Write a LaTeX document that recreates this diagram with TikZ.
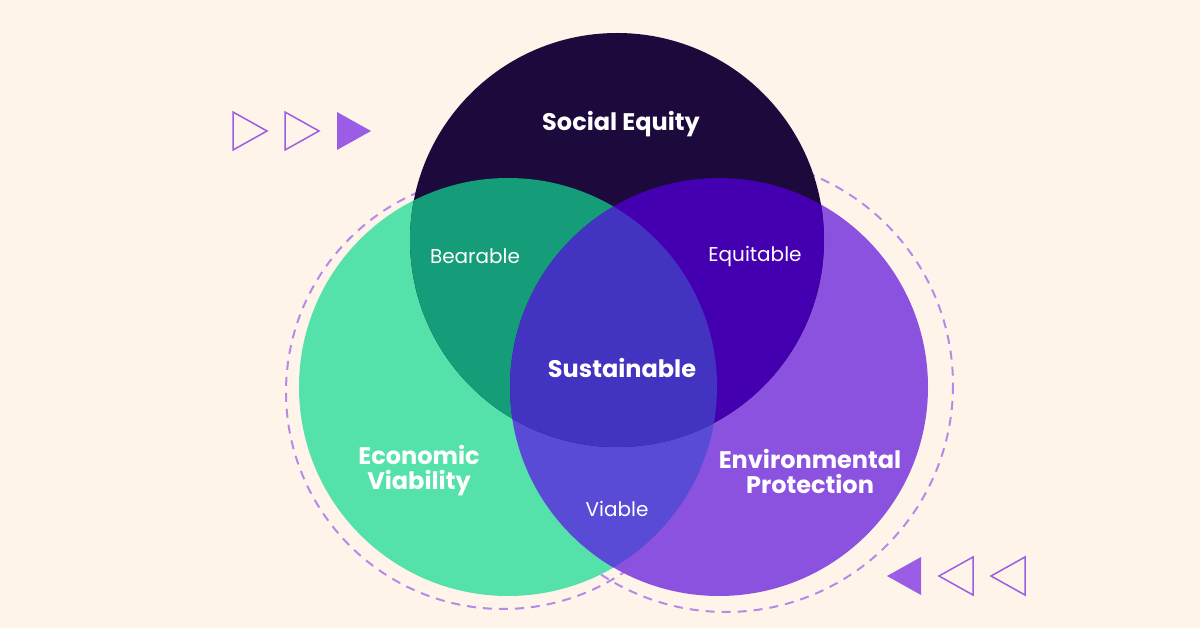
\documentclass[tikz,border=0pt]{standalone}
\usepackage{fontspec}
\setmainfont{Poppins}
\definecolor{bg}{HTML}{FEF4EA}
\definecolor{topc}{HTML}{1D0A3D}
\definecolor{leftc}{HTML}{55E2AA}
\definecolor{rightc}{HTML}{8B52E0}
\definecolor{tl}{HTML}{159C78}
\definecolor{tr}{HTML}{4400B0}
\definecolor{lr}{HTML}{5A4BD6}
\definecolor{ctr}{HTML}{4233C0}
\definecolor{dashc}{HTML}{B58AE8}
\definecolor{tric}{HTML}{9B5DE5}
\begin{document}
\begin{tikzpicture}[x=1pt,y=-1pt,
  lab/.style={text=white,font=\fontsize{20}{24}\selectfont},
  big/.style={text=white,font=\bfseries\fontsize{24}{29}\selectfont,align=center},
  tri/.style={draw=tric,line width=1.5pt,line join=miter},
  dashring/.style={draw=dashc,line width=2pt,dash pattern=on 9pt off 7pt}]
\fill[bg] (0,0) rectangle (1200,628);
\useasboundingbox (0,0) rectangle (1200,628);
\def\TC{(617,240) circle (207)}
\def\LC{(508,387) circle (209)}
\def\RC{(719,387) circle (209)}
\draw[dashring] (503,392) circle (217);
\draw[dashring] (726,385) circle (227);
\fill[leftc] \LC;
\fill[rightc] \RC;
\begin{scope}\clip \LC; \fill[lr] \RC; \end{scope}
\fill[topc] \TC;
\begin{scope}\clip \TC; \fill[tl] \LC; \fill[tr] \RC;
  \clip \LC; \fill[ctr] \RC; \end{scope}
\node[big] (se) at (621,124) {Social Equity};
\node[big] (ev) at (419,471) {Economic\\[-4pt]Viability};
\node[big] (ep) at (810,471) {Environmental\\[-4pt]Protection};
\node[big] (su) at (622,368) {Sustainable};
\node[lab] (be) at (475,256) {Bearable};
\node[lab] (eq) at (755,256) {Equitable};
\node[lab] (vi) at (617,509) {Viable};
\draw[tri] (233,112)--(267,131)--(233,150)--cycle;
\draw[tri] (285,112)--(319,131)--(285,150)--cycle;
\fill[tric] (337,112)--(371,131)--(337,150)--cycle;
\fill[tric] (921,557)--(887,576)--(921,595)--cycle;
\draw[tri] (973,557)--(939,576)--(973,595)--cycle;
\draw[tri] (1025,557)--(991,576)--(1025,595)--cycle;
\end{tikzpicture}
\end{document}
